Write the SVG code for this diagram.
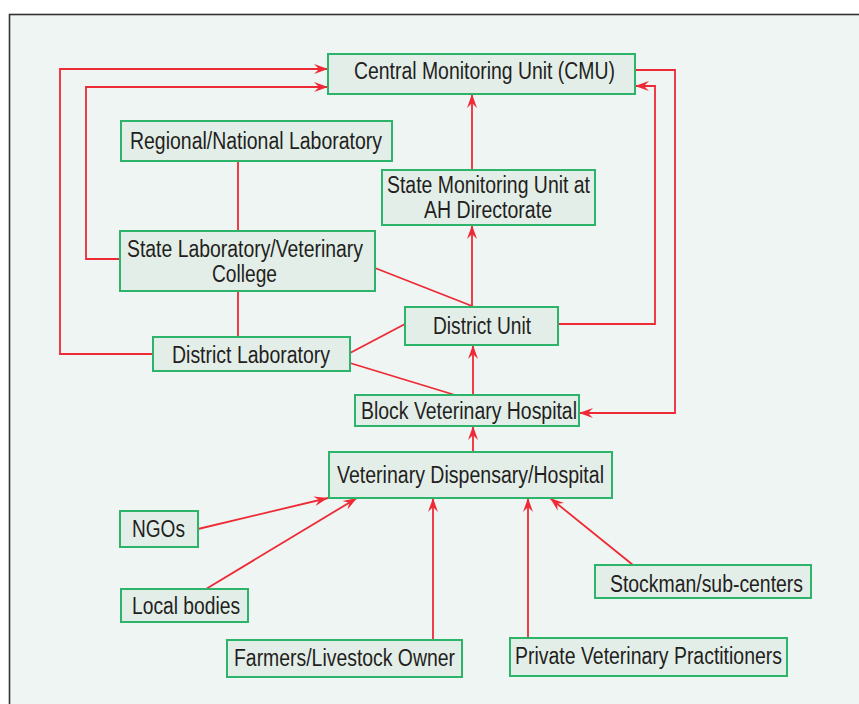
<svg xmlns="http://www.w3.org/2000/svg" width="859" height="704" viewBox="0 0 859 704">
<style>
.node rect{fill:#E4EEE9;stroke:#2DB46B;stroke-width:2}
.node text{font-family:"Liberation Sans",Arial,sans-serif;font-size:23px;fill:#231F20}
#connectors path{fill:none;stroke:#EE2A36;stroke-width:1.8}
</style>
<defs>
<marker id="arr" markerUnits="userSpaceOnUse" viewBox="-14 -6 15 12" refX="0" refY="0" markerWidth="15" markerHeight="12" orient="auto">
<path d="M0,0 L-14,-5 L-9,0 L-14,5 Z" fill="#EE2A36"/>
</marker>
</defs>
<rect x="0" y="0" width="859" height="704" fill="#FFFFFF"/>
<rect x="9.5" y="14.5" width="900" height="800" fill="#EEF5F2" stroke="#333333" stroke-width="1.6"/>

<g id="connectors">
<path d="M153,354 H60 V69 H328" marker-end="url(#arr)"/>
<path d="M120,259 H86 V87 H328" marker-end="url(#arr)"/>
<path d="M238,161 V231"/>
<path d="M238,291 V337"/>
<path d="M375,268 L472,306"/>
<path d="M472,307 V225" marker-end="url(#arr)"/>
<path d="M472,170 V94" marker-end="url(#arr)"/>
<path d="M350,353 L405,324"/>
<path d="M350,363 L455,395"/>
<path d="M473,395 V345" marker-end="url(#arr)"/>
<path d="M473,452 V426" marker-end="url(#arr)"/>
<path d="M558,324 H655 V86 H635" marker-end="url(#arr)"/>
<path d="M635,70 H675 V413 H579" marker-end="url(#arr)"/>
<path d="M198,529 L328,498" marker-end="url(#arr)"/>
<path d="M206,589 L357,498" marker-end="url(#arr)"/>
<path d="M433,640 V498" marker-end="url(#arr)"/>
<path d="M528,638 V498" marker-end="url(#arr)"/>
<path d="M633,565 L550,498" marker-end="url(#arr)"/>
</g>

<g id="cmu" class="node"><rect x="328" y="54" width="307" height="40"/><text x="354" y="79" textLength="261" lengthAdjust="spacingAndGlyphs">Central Monitoring Unit (CMU)</text></g>
<g id="regional" class="node"><rect x="121" y="121" width="271" height="40"/><text x="130" y="149" textLength="252" lengthAdjust="spacingAndGlyphs">Regional/National Laboratory</text></g>
<g id="smu" class="node"><rect x="382" y="170" width="213" height="55"/><text x="387" y="193" textLength="203" lengthAdjust="spacingAndGlyphs">State Monitoring Unit at</text><text x="424" y="218" textLength="128" lengthAdjust="spacingAndGlyphs">AH Directorate</text></g>
<g id="statelab" class="node"><rect x="120" y="231" width="255" height="60"/><text x="127" y="257" textLength="236" lengthAdjust="spacingAndGlyphs">State Laboratory/Veterinary</text><text x="212" y="282" textLength="65" lengthAdjust="spacingAndGlyphs">College</text></g>
<g id="districtlab" class="node"><rect x="153" y="337" width="197" height="34"/><text x="172" y="363" textLength="158" lengthAdjust="spacingAndGlyphs">District Laboratory</text></g>
<g id="districtunit" class="node"><rect x="405" y="307" width="153" height="38"/><text x="433" y="334" textLength="98" lengthAdjust="spacingAndGlyphs">District Unit</text></g>
<g id="block" class="node"><rect x="355" y="395" width="224" height="31"/><text x="361" y="419" textLength="216" lengthAdjust="spacingAndGlyphs">Block Veterinary Hospital</text></g>
<g id="dispensary" class="node"><rect x="329" y="452" width="283" height="46"/><text x="337" y="483" textLength="267" lengthAdjust="spacingAndGlyphs">Veterinary Dispensary/Hospital</text></g>
<g id="ngos" class="node"><rect x="120" y="511" width="78" height="36"/><text x="132" y="537" textLength="53" lengthAdjust="spacingAndGlyphs">NGOs</text></g>
<g id="local" class="node"><rect x="121" y="589" width="127" height="33"/><text x="132" y="614" textLength="108" lengthAdjust="spacingAndGlyphs">Local bodies</text></g>
<g id="farmers" class="node"><rect x="227" y="640" width="235" height="37"/><text x="234" y="666" textLength="221" lengthAdjust="spacingAndGlyphs">Farmers/Livestock Owner</text></g>
<g id="private" class="node"><rect x="510" y="638" width="277" height="38"/><text x="515" y="664" textLength="267" lengthAdjust="spacingAndGlyphs">Private Veterinary Practitioners</text></g>
<g id="stockman" class="node"><rect x="595" y="565" width="216" height="33"/><text x="610" y="592" textLength="193" lengthAdjust="spacingAndGlyphs">Stockman/sub-centers</text></g>
</svg>
